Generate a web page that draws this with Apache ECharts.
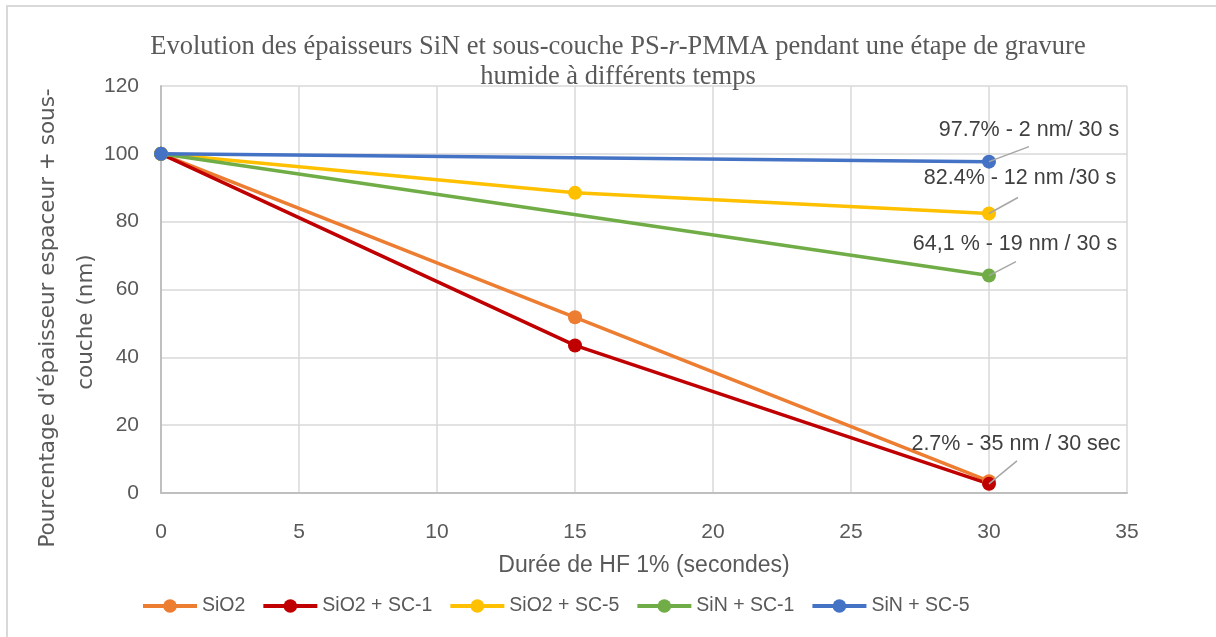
<!DOCTYPE html>
<html>
<head>
<meta charset="utf-8">
<script src="https://cdn.jsdelivr.net/npm/echarts@6/dist/echarts.min.js"></script>
<style>
  html, body { margin: 0; padding: 0; background: #fff; }
  #chart { width: 1216px; height: 637px; }
</style>
</head>
<body>
<div id="chart"></div>
<script>
// Etching time (s) and remaining thickness (%) per stack
const times = [0, 15, 30];
const timesTwoPoints = [0, 30];
const sio2 = [100, 51.8, 3.5];
const sio2Sc1 = [100, 43.5, 2.7];
const sio2Sc5 = [100, 88.5, 82.4];
const sinSc1 = [100, 64.1];
const sinSc5 = [100, 97.7];

const seriesNames = ['SiO2', 'SiO2 + SC-1', 'SiO2 + SC-5', 'SiN + SC-1', 'SiN + SC-5'];
const xTicks = [0, 5, 10, 15, 20, 25, 30, 35];
const yTicks = [0, 20, 40, 60, 80, 100, 120];
const yTitleLines = ["Pourcentage d'épaisseur espaceur + sous-", 'couche (nm)'];

// Callouts on the 30 s points
const callouts = [
  { series: 'SiN + SC-5', text: '97.7% - 2 nm/ 30 s' },
  { series: 'SiO2 + SC-5', text: '82.4% - 12 nm /30 s' },
  { series: 'SiN + SC-1', text: '64,1 % - 19 nm / 30 s' },
  { series: 'SiO2 + SC-1', text: '2.7% - 35 nm / 30 sec' }
];

// Pixel offsets of each callout's leader end and text centre, relative to its point
const calloutOffsets = [
  { lx: 40, ly: -15, tx: 40, ty: -32 },
  { lx: 29, ly: -16, tx: 31, ty: -35 },
  { lx: 27, ly: -14, tx: 26, ty: -32 },
  { lx: 28, ly: -23, tx: 27, ty: -40 }
];

const colors = {
  'SiO2': '#ED7D31',
  'SiO2 + SC-1': '#C00000',
  'SiO2 + SC-5': '#FFC000',
  'SiN + SC-1': '#70AD47',
  'SiN + SC-5': '#4472C4'
};

const seriesData = {
  'SiO2': times.map((t, i) => [t, sio2[i]]),
  'SiO2 + SC-1': times.map((t, i) => [t, sio2Sc1[i]]),
  'SiO2 + SC-5': times.map((t, i) => [t, sio2Sc5[i]]),
  'SiN + SC-1': timesTwoPoints.map((t, i) => [t, sinSc1[i]]),
  'SiN + SC-5': timesTwoPoints.map((t, i) => [t, sinSc5[i]])
};

const sans = 'Liberation Sans, Arial, sans-serif';
const wideSans = 'DejaVu Sans, Verdana, sans-serif';
const serif = 'Liberation Serif, Times New Roman, serif';
const textGrey = '#595959';

const lineSeries = seriesNames.map(name => ({
  name: name,
  type: 'line',
  data: seriesData[name],
  symbol: 'circle',
  symbolSize: 14,
  showSymbol: true,
  lineStyle: { width: 3.5, color: colors[name] },
  itemStyle: { color: colors[name] },
  emphasis: { disabled: true },
  animation: false
}));

const calloutData = callouts.map(c => {
  const pts = seriesData[c.series];
  return pts[pts.length - 1];
});

const calloutSeries = {
  type: 'custom',
  name: 'callouts',
  data: calloutData,
  z: 10,
  animation: false,
  silent: true,
  renderItem: function (params, api) {
    const p = api.coord([api.value(0), api.value(1)]);
    const o = calloutOffsets[params.dataIndex];
    return {
      type: 'group',
      children: [
        {
          type: 'line',
          shape: { x1: p[0], y1: p[1], x2: p[0] + o.lx, y2: p[1] + o.ly },
          style: { stroke: '#A6A6A6', lineWidth: 1.5 }
        },
        {
          type: 'text',
          x: p[0] + o.tx,
          y: p[1] + o.ty,
          style: {
            text: callouts[params.dataIndex].text,
            fill: '#404040',
            font: '21.5px ' + sans,
            textAlign: 'center',
            textVerticalAlign: 'middle'
          }
        }
      ]
    };
  }
};

const chart = echarts.init(document.getElementById('chart'));
chart.setOption({
  backgroundColor: '#ffffff',
  graphic: [
    {
      type: 'rect',
      shape: { x: 7, y: 6, width: 1300, height: 700 },
      style: { fill: 'none', stroke: '#D9D9D9', lineWidth: 2 },
      z: -1
    },
    // Vertical axis title, two rotated lines
    {
      type: 'text',
      x: 48,
      y: 318,
      rotation: Math.PI / 2,
      style: {
        text: yTitleLines[0],
        font: '21.5px ' + wideSans,
        fill: textGrey,
        textAlign: 'center',
        textVerticalAlign: 'middle'
      }
    },
    {
      type: 'text',
      x: 86,
      y: 322,
      rotation: Math.PI / 2,
      style: {
        text: yTitleLines[1],
        font: '21.5px ' + wideSans,
        fill: textGrey,
        textAlign: 'center',
        textVerticalAlign: 'middle'
      }
    }
  ],
  title: {
    text: 'Evolution des épaisseurs SiN et sous-couche PS-{i|r}-PMMA pendant une étape de gravure\nhumide à différents temps',
    left: 613,
    top: 27,
    textAlign: 'center',
    textStyle: {
      fontFamily: serif,
      fontSize: 26.5,
      fontWeight: 'normal',
      color: textGrey,
      lineHeight: 30,
      rich: {
        i: {
          fontFamily: serif,
          fontSize: 26.5,
          fontStyle: 'italic',
          color: textGrey,
          lineHeight: 30
        }
      }
    }
  },
  legend: {
    data: seriesNames,
    left: 136,
    top: 591,
    itemWidth: 54,
    itemHeight: 17,
    itemGap: 16,
    lineStyle: { width: 4 },
    textStyle: { fontFamily: sans, fontSize: 19.5, color: textGrey },
    selectedMode: false
  },
  grid: { left: 161, right: 89, top: 86, bottom: 144, outerBoundsMode: 'none', containLabel: false },
  xAxis: {
    type: 'value',
    min: xTicks[0],
    max: xTicks[xTicks.length - 1],
    interval: xTicks[1] - xTicks[0],
    name: 'Durée de HF 1% (secondes)',
    nameLocation: 'middle',
    nameGap: 61,
    nameTextStyle: { fontFamily: sans, fontSize: 23, color: textGrey },
    axisLine: { show: true, onZero: false, lineStyle: { color: '#BFBFBF', width: 2 } },
    axisTick: { show: false },
    axisLabel: { margin: 29, fontFamily: sans, fontSize: 21, color: textGrey },
    splitLine: { show: true, lineStyle: { color: '#D9D9D9', width: 1.5 } }
  },
  yAxis: {
    type: 'value',
    min: yTicks[0],
    max: yTicks[yTicks.length - 1],
    interval: yTicks[1] - yTicks[0],
    axisLine: { show: true, lineStyle: { color: '#BFBFBF', width: 2 } },
    axisTick: { show: false },
    axisLabel: { margin: 22, fontFamily: sans, fontSize: 21, color: textGrey },
    splitLine: { show: true, lineStyle: { color: '#D9D9D9', width: 1.5 } }
  },
  series: lineSeries.concat([calloutSeries])
});
</script>
</body>
</html>
